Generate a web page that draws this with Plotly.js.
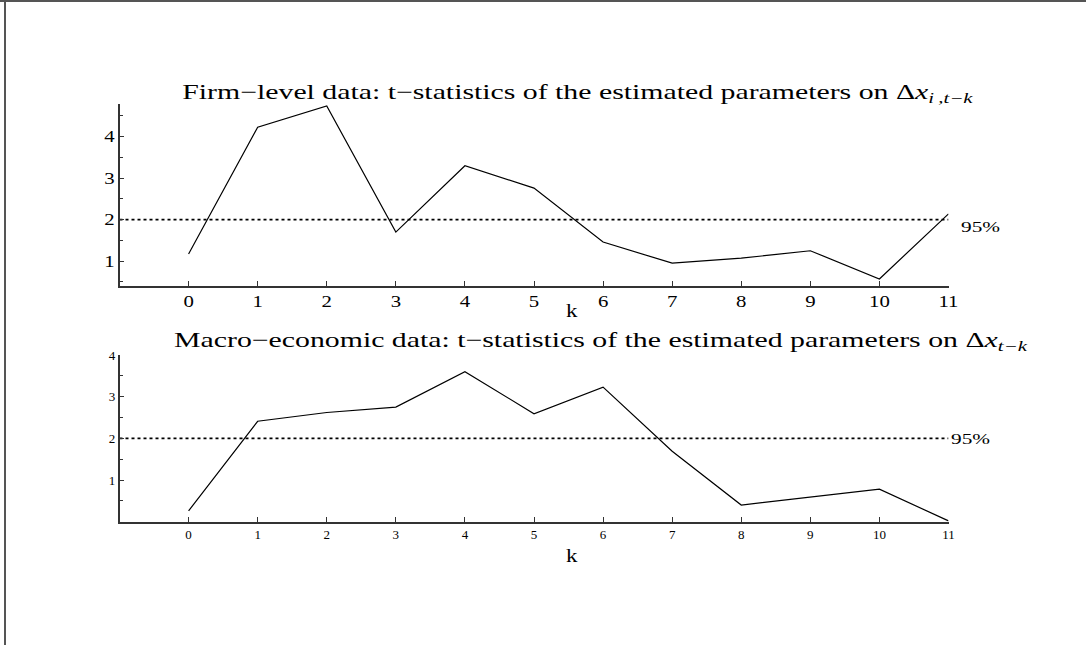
<!DOCTYPE html>
<html>
<head>
<meta charset="utf-8">
<script src="https://cdn.plot.ly/plotly-3.0.1.min.js"></script>
<style>html,body{margin:0;padding:0;background:#fff}#chart{width:1086px;height:645px}</style>
</head>
<body>
<div id="chart"></div>
<script>
// ---- data ----
const lags = [0, 1, 2, 3, 4, 5, 6, 7, 8, 9, 10, 11];
const firmT = [1.17, 4.23, 4.74, 1.70, 3.30, 2.76, 1.46, 0.95, 1.07, 1.25, 0.57, 2.14];
const macroT = [0.26, 2.41, 2.62, 2.75, 3.60, 2.59, 3.23, 1.69, 0.40, 0.59, 0.78, 0.02];
const critVal = 2;
const critLabel = "95%";
const critX = [-1, 11];
const yTicks = [1, 2, 3, 4];
const firmMinor = [0.5, 1.5, 2.5, 3.5, 4.5];
const macroMinor = [0.5, 1.5, 2.5, 3.5];
const titleFirm = "Firm\u2212level data: t\u2212statistics of the estimated parameters on \u0394<i>x</i><sub><i>i\u2009,t\u2212k</i></sub>";
const titleMacro = "Macro\u2212economic data: t\u2212statistics of the estimated parameters on \u0394<i>x</i><sub><i>t\u2212k</i></sub>";
const xLabel = "k";

const W = 1086, H = 645;
const serif = "'Liberation Serif', 'Times New Roman', serif";
const STRETCH = 1.42; // the reference's lettering is widened horizontally

const traces = [
  {x: lags, y: firmT, xaxis: 'x', yaxis: 'y', mode: 'lines', line: {color: '#000', width: 1.2}, hoverinfo: 'x+y'},
  {x: critX, y: [critVal, critVal], xaxis: 'x', yaxis: 'y', mode: 'lines', line: {color: '#000', width: 1.6, dash: 'dot'}, hoverinfo: 'skip'},
  {x: lags, y: macroT, xaxis: 'x2', yaxis: 'y2', mode: 'lines', line: {color: '#000', width: 1.2}, hoverinfo: 'x+y'},
  {x: critX, y: [critVal, critVal], xaxis: 'x2', yaxis: 'y2', mode: 'lines', line: {color: '#000', width: 1.6, dash: 'dot'}, hoverinfo: 'skip'}
];

const xdom = [119.5 / W, 948.5 / W];
function xax(anchor, fs) {
  return {
    domain: xdom, anchor: anchor, range: [-1, 11],
    tickmode: 'array', tickvals: lags, ticktext: lags.map(String),
    ticks: 'inside', ticklen: 5, tickwidth: 1.2, tickcolor: '#333',
    showline: true, linecolor: '#333', linewidth: 1.5,
    showgrid: false, zeroline: false,
    tickfont: {family: serif, size: fs, color: '#000'}
  };
}
function yax(anchor, dom, range, minor, fs) {
  return {
    domain: dom, anchor: anchor, range: range,
    tickmode: 'array', tickvals: yTicks, ticktext: yTicks.map(String),
    ticks: 'inside', ticklen: 5, tickwidth: 1.2, tickcolor: '#333',
    minor: {tickmode: 'array', tickvals: minor, ticks: 'inside', ticklen: 4, tickwidth: 1, tickcolor: '#333'},
    showline: true, linecolor: '#333', linewidth: 1.5,
    showgrid: false, zeroline: false,
    tickfont: {family: serif, size: fs, color: '#000'}
  };
}

const layout = {
  width: W, height: H,
  margin: {l: 0, r: 0, t: 0, b: 0},
  paper_bgcolor: '#fff', plot_bgcolor: '#fff',
  showlegend: false,
  xaxis: xax('y', 16),
  yaxis: yax('x', [1 - 286 / H, 1 - 103.5 / H], [0.4, 4.8], firmMinor, 16),
  xaxis2: xax('y2', 13),
  yaxis2: yax('x2', [1 - 521.7 / H, 1 - 355 / H], [0, 4], macroMinor, 13),
  annotations: [
    {xref: 'paper', yref: 'paper', x: 578 / W, y: 1 - 93 / H, text: titleFirm, showarrow: false, xanchor: 'center', yanchor: 'middle', font: {family: serif, size: 21, color: '#000'}},
    {xref: 'paper', yref: 'paper', x: 601 / W, y: 1 - 341 / H, text: titleMacro, showarrow: false, xanchor: 'center', yanchor: 'middle', font: {family: serif, size: 21, color: '#000'}},
    {xref: 'x', yref: 'y', x: 11, y: critVal, text: critLabel, showarrow: false, xanchor: 'left', yanchor: 'middle', xshift: 10, yshift: -7, font: {family: serif, size: 15, color: '#000'}},
    {xref: 'x2', yref: 'y2', x: 11, y: critVal, text: critLabel, showarrow: false, xanchor: 'left', yanchor: 'middle', xshift: 0, yshift: -1, font: {family: serif, size: 15, color: '#000'}},
    {xref: 'x', yref: 'paper', x: 5.55, y: 1 - 311 / H, text: xLabel, showarrow: false, xanchor: 'center', yanchor: 'middle', font: {family: serif, size: 19, color: '#000'}},
    {xref: 'x2', yref: 'paper', x: 5.55, y: 1 - 555 / H, text: xLabel, showarrow: false, xanchor: 'center', yanchor: 'middle', font: {family: serif, size: 19, color: '#000'}}
  ],
  shapes: [
    {type: 'line', xref: 'paper', yref: 'paper', x0: 0, x1: 1, y0: 1 - 1 / H, y1: 1 - 1 / H, line: {color: '#555', width: 2}},
    {type: 'line', xref: 'paper', yref: 'paper', x0: 5 / W, x1: 5 / W, y0: 0, y1: 1, line: {color: '#555', width: 2}}
  ]
};

// widen text horizontally about an anchor ('center' | 'left' | 'right')
function widen(el, s, mode) {
  const b = el.getBBox();
  let cx = b.x + b.width / 2;
  if (mode === 'left') cx = b.x;
  if (mode === 'right') cx = b.x + b.width;
  const prev = el.getAttribute('transform') || '';
  el.setAttribute('transform', prev + ' translate(' + cx + ',0) scale(' + s + ',1) translate(' + (-cx) + ',0)');
}

Plotly.newPlot('chart', traces, layout, {displayModeBar: false}).then(function (gd) {
  gd.querySelectorAll('.xtick text').forEach(function (t) { widen(t, 1.3, 'center'); });
  gd.querySelectorAll('.ytick text').forEach(function (t) { widen(t, 1.3, 'right'); });
  const ann = gd.querySelectorAll('.annotation-text');
  ann.forEach(function (t) {
    const txt = t.textContent;
    if (txt === critLabel) widen(t, STRETCH, 'left');
    else if (txt === xLabel) widen(t, 1.2, 'center');
    else widen(t, STRETCH, 'center');
  });
});
</script>
</body>
</html>
